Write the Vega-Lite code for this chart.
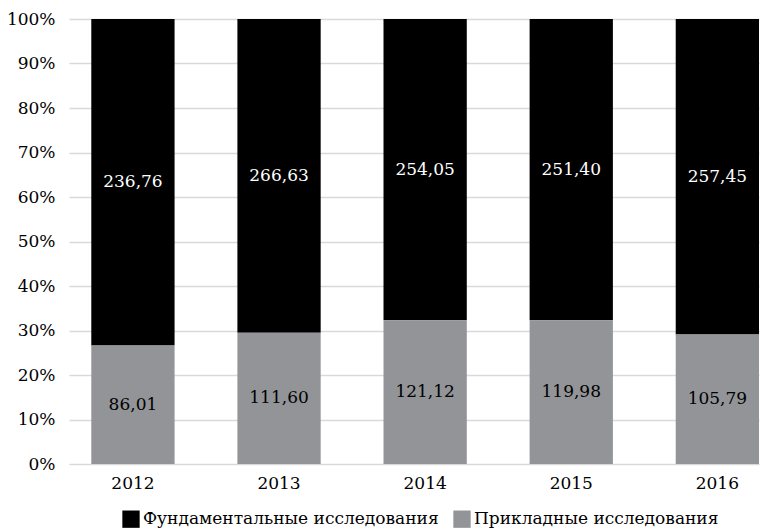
{
  "$schema": "https://vega.github.io/schema/vega-lite/v6.json",
  "width": 690,
  "height": 445,
  "autosize": {"type": "none"},
  "padding": {"left": 69, "top": 19, "right": 1, "bottom": 65},
  "background": "white",
  "config": {
    "locale": {"number": {"decimal": ",", "thousands": " ", "grouping": [3], "currency": ["", " ₽"]}},
    "view": {"stroke": null},
    "font": "DejaVu Serif"
  },
  "data": {
    "values": [
      {"year": "2012", "type": "Фундаментальные исследования", "value": 236.76},
      {"year": "2012", "type": "Прикладные исследования", "value": 86.01},
      {"year": "2013", "type": "Фундаментальные исследования", "value": 266.63},
      {"year": "2013", "type": "Прикладные исследования", "value": 111.60},
      {"year": "2014", "type": "Фундаментальные исследования", "value": 254.05},
      {"year": "2014", "type": "Прикладные исследования", "value": 121.12},
      {"year": "2015", "type": "Фундаментальные исследования", "value": 251.40},
      {"year": "2015", "type": "Прикладные исследования", "value": 119.98},
      {"year": "2016", "type": "Фундаментальные исследования", "value": 257.45},
      {"year": "2016", "type": "Прикладные исследования", "value": 105.79}
    ]
  },
  "transform": [
    {"stack": "value", "groupby": ["year"], "sort": [{"field": "type", "order": "ascending"}], "as": ["y0", "y1"], "offset": "normalize"},
    {"calculate": "(datum.y0 + datum.y1) / 2", "as": "ymid"}
  ],
  "encoding": {
    "x": {
      "field": "year", "type": "ordinal", "title": null,
      "scale": {"paddingInner": 0.43, "paddingOuter": 0.0763, "align": 1},
      "axis": {"labelAngle": 0, "domain": false, "ticks": false, "labelPadding": 11, "labelFontSize": 17, "labelFont": "DejaVu Serif", "labelColor": "#000000"}
    }
  },
  "layer": [
    {
      "mark": {"type": "bar"},
      "encoding": {
        "y": {
          "field": "y1", "type": "quantitative", "title": null,
          "scale": {"domain": [0, 1], "nice": false},
          "axis": {"format": "%", "values": [0, 0.1, 0.2, 0.3, 0.4, 0.5, 0.6, 0.7, 0.8, 0.9, 1], "grid": true, "gridColor": "#d9d9d9", "gridWidth": 1.5, "domain": false, "ticks": false, "labelPadding": 14, "labelFontSize": 17, "labelFont": "DejaVu Serif", "labelColor": "#000000"}
        },
        "y2": {"field": "y0"},
        "color": {
          "field": "type", "type": "nominal",
          "scale": {"domain": ["Фундаментальные исследования", "Прикладные исследования"], "range": ["#000000", "#929497"]},
          "legend": {"orient": "none", "legendX": 53, "legendY": 491, "direction": "horizontal", "title": null, "symbolType": "square", "symbolSize": 300, "symbolStrokeWidth": 0, "symbolOpacity": 1, "labelFontSize": 17, "labelFont": "DejaVu Serif", "labelColor": "#000000", "columnPadding": 14, "labelOffset": 3, "labelLimit": 400}
        }
      }
    },
    {
      "mark": {"type": "text", "fontSize": 17, "font": "DejaVu Serif", "baseline": "middle", "align": "center"},
      "encoding": {
        "y": {"field": "ymid", "type": "quantitative"},
        "text": {"field": "value", "type": "quantitative", "format": ".2f"},
        "color": {"condition": {"test": "datum.type === 'Фундаментальные исследования'", "value": "#ffffff"}, "value": "#000000"}
      }
    }
  ]
}
